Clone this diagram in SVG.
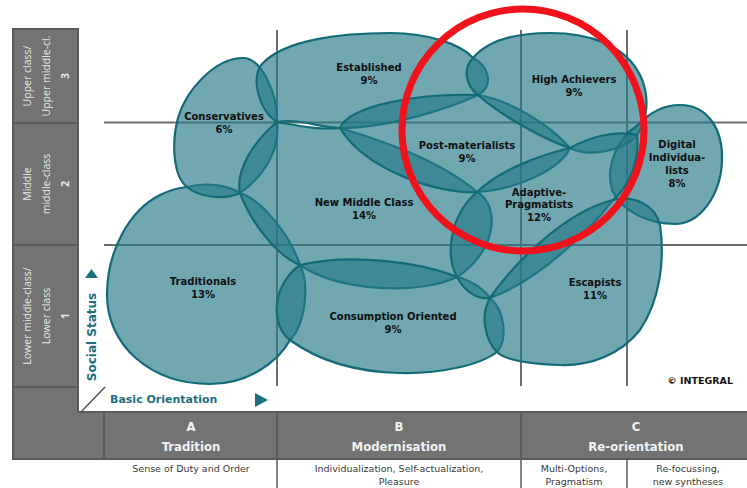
<svg xmlns="http://www.w3.org/2000/svg" width="747" height="488" viewBox="0 0 747 488">
  <defs>
    <style>
      .panel { fill: #737373; stroke: #5a5a5a; stroke-width: 2; }
      .celltxt { font-family: "Open Sans", "DejaVu Sans", sans-serif; font-size: 10.5px; fill: #e6e6e6; text-anchor: middle; }
      .cellnum { font-family: "Open Sans", "DejaVu Sans", sans-serif; font-size: 10.5px; font-weight: bold; fill: #e6e6e6; text-anchor: middle; }
      .colhead { font-family: "DejaVu Sans Condensed", "Liberation Sans Narrow", "DejaVu Sans", sans-serif; font-weight: bold; font-size: 13px; fill: #f2f2f2; text-anchor: middle; }
      .coldesc { font-family: "DejaVu Sans", "Liberation Sans", sans-serif; font-size: 9.5px; fill: #3a3a3a; text-anchor: middle; }
      .grid { stroke: #6e6e6e; stroke-width: 2; fill: none; }
      .sep { stroke: #5a5a5a; stroke-width: 1.5; fill: none; }
      .blob { fill: #267a89; fill-opacity: 0.66; stroke: #136a78; stroke-width: 2.2; stroke-linejoin: round; }
      .lbl { font-family: "DejaVu Sans", "Liberation Sans", sans-serif; font-weight: bold; font-size: 10px; fill: #111; text-anchor: middle; }
      .axis { font-family: "DejaVu Sans", "Liberation Sans", sans-serif; font-weight: bold; fill: #1d6f7d; }
    </style>
  </defs>

  <rect width="747" height="488" fill="#ffffff"/>

  <!-- side and bottom frames -->
  <g id="frame">
    <rect class="panel" x="13" y="29" width="65" height="430"/>
    <rect class="panel" x="13" y="412" width="740" height="47"/>
    <rect x="14" y="388" width="63" height="70" fill="#737373"/>
    <line class="panel" x1="13" y1="123" x2="78" y2="123"/>
    <line class="panel" x1="13" y1="245" x2="78" y2="245"/>
    <line class="panel" x1="13" y1="387" x2="78" y2="387"/>
    <line class="panel" x1="104" y1="412" x2="104" y2="459"/>
    <line class="panel" x1="277" y1="412" x2="277" y2="459"/>
    <line class="panel" x1="521" y1="412" x2="521" y2="459"/>
    <line x1="80" y1="413" x2="105" y2="387" stroke="#555" stroke-width="1.5"/>
  </g>

  <!-- social status rows -->
  <g id="rows">
    <g transform="translate(31,76) rotate(-90)"><text class="celltxt">Upper class/</text></g>
    <g transform="translate(50,76) rotate(-90)"><text class="celltxt">Upper middle-cl.</text></g>
    <g transform="translate(68.5,76) rotate(-90)"><text class="cellnum">3</text></g>
    <g transform="translate(31,184) rotate(-90)"><text class="celltxt">Middle</text></g>
    <g transform="translate(50,184) rotate(-90)"><text class="celltxt">middle-class</text></g>
    <g transform="translate(68.5,184) rotate(-90)"><text class="cellnum">2</text></g>
    <g transform="translate(31,316) rotate(-90)"><text class="celltxt">Lower middle-class/</text></g>
    <g transform="translate(50,316) rotate(-90)"><text class="celltxt">Lower class</text></g>
    <g transform="translate(68.5,316) rotate(-90)"><text class="cellnum">1</text></g>
  </g>

  <!-- basic orientation columns -->
  <g id="columns">
    <text class="colhead" x="191" y="431">A</text>
    <text class="colhead" x="191" y="451">Tradition</text>
    <text class="colhead" x="399" y="431">B</text>
    <text class="colhead" x="399" y="451">Modernisation</text>
    <text class="colhead" x="636" y="431">C</text>
    <text class="colhead" x="636" y="451">Re-orientation</text>
    <line class="sep" x1="277" y1="459" x2="277" y2="488"/>
    <line class="sep" x1="521" y1="459" x2="521" y2="488"/>
    <line class="sep" x1="627" y1="459" x2="627" y2="488"/>
    <text class="coldesc" x="191" y="472">Sense of Duty and Order</text>
    <text class="coldesc" x="399" y="472">Individualization, Self-actualization,</text>
    <text class="coldesc" x="399" y="485">Pleasure</text>
    <text class="coldesc" x="574" y="472">Multi-Options,</text>
    <text class="coldesc" x="574" y="485">Pragmatism</text>
    <text class="coldesc" x="688" y="472">Re-focussing,</text>
    <text class="coldesc" x="688" y="485">new syntheses</text>
  </g>

  <!-- grid inside the chart -->
  <g id="grid">
    <line class="grid" x1="277" y1="30" x2="277" y2="386"/>
    <line class="grid" x1="521" y1="30" x2="521" y2="386"/>
    <line class="grid" x1="627" y1="30" x2="627" y2="386"/>
    <line class="grid" x1="104" y1="122.5" x2="747" y2="122.5"/>
    <line class="grid" x1="104" y1="245" x2="747" y2="245"/>
  </g>

  <!-- connectors: none, the milieus touch and overlap directly -->
  <g id="connectors"/>

  <g id="traditionals">
    <path class="blob" d="M187 187 C205 182 228 185 240 193 C262 200 290 235 300 265 C310 285 305 325 290 340 C278 362 248 384 210 384 C150 384 107 345 107 295 C107 250 130 210 160 195 C170 190 178 188 187 187 Z"/>
    <text class="lbl" x="203" y="285">Traditionals</text>
    <text class="lbl" x="203" y="298">13%</text>
  </g>

  <g id="conservatives">
    <path class="blob" d="M243 58 C262 58 278 95 277 122 C280 150 265 175 240 193 C225 200 200 198 187 187 C172 175 172 140 178 118 C186 90 215 58 243 58 Z"/>
    <text class="lbl" x="224" y="120">Conservatives</text>
    <text class="lbl" x="224" y="133">6%</text>
  </g>

  <g id="established">
    <path class="blob" d="M277 122 C258 110 250 75 263 63 C285 40 340 33 390 33 C430 33 462 45 473 58 C488 65 495 85 478 95 C450 108 390 128 340 128 C320 128 300 118 277 122 Z"/>
    <text class="lbl" x="369" y="71">Established</text>
    <text class="lbl" x="369" y="84">9%</text>
  </g>

  <g id="new-middle-class">
    <path class="blob" d="M277 122 C300 126 320 130 340 128 C380 140 440 160 477 192 C500 205 498 250 457 277 C420 295 340 292 300 265 C275 255 250 220 240 193 C235 170 255 140 277 122 Z"/>
    <text class="lbl" x="364" y="206">New Middle Class</text>
    <text class="lbl" x="364" y="219">14%</text>
  </g>

  <g id="consumption-oriented">
    <path class="blob" d="M300 265 C350 253 420 262 457 277 C470 280 483 288 490 298 C505 310 508 340 497 352 C480 365 440 374 400 373 C360 372 320 362 290 340 C270 325 272 285 300 265 Z"/>
    <text class="lbl" x="393" y="320">Consumption Oriented</text>
    <text class="lbl" x="393" y="333">9%</text>
  </g>

  <g id="post-materialists">
    <path class="blob" d="M340 128 C350 105 420 93 478 95 C510 100 550 125 570 148 C560 170 515 190 477 192 C440 195 365 170 340 128 Z"/>
    <text class="lbl" x="467" y="149">Post-materialists</text>
    <text class="lbl" x="467" y="162">9%</text>
  </g>

  <g id="high-achievers">
    <path class="blob" d="M478 95 C465 85 463 68 473 58 C490 38 520 33 550 33 C590 33 625 45 640 75 C650 95 648 120 637 135 C625 150 590 158 570 148 C545 140 500 115 478 95 Z"/>
    <text class="lbl" x="574" y="83">High Achievers</text>
    <text class="lbl" x="574" y="96">9%</text>
  </g>

  <g id="digital-individualists">
    <path class="blob" d="M638 125 C652 110 665 105 680 105 C708 105 723 130 722 160 C721 195 700 224 675 224 C650 224 622 212 612 190 C605 165 618 138 638 125 Z"/>
    <text class="lbl" x="677" y="148">Digital</text>
    <text class="lbl" x="677" y="161">Individua-</text>
    <text class="lbl" x="677" y="174">lists</text>
    <text class="lbl" x="677" y="187">8%</text>
  </g>

  <g id="adaptive-pragmatists">
    <path class="blob" d="M477 192 C500 170 540 155 570 148 C590 137 615 130 637 135 C640 160 630 185 613 200 C590 230 540 280 490 298 C478 300 465 292 457 277 C445 255 450 215 477 192 Z"/>
    <text class="lbl" x="539" y="196">Adaptive-</text>
    <text class="lbl" x="539" y="208">Pragmatists</text>
    <text class="lbl" x="539" y="221">12%</text>
  </g>

  <g id="escapists">
    <path class="blob" d="M490 298 C515 262 565 212 613 200 C635 195 655 205 660 225 C665 260 660 300 640 330 C620 355 590 366 560 365 C530 364 505 360 497 352 C485 340 480 315 490 298 Z"/>
    <text class="lbl" x="595" y="286">Escapists</text>
    <text class="lbl" x="595" y="299">11%</text>
  </g>

  <!-- highlight ring -->
  <g id="highlight">
    <circle cx="523" cy="130" r="121" fill="none" stroke="#f2121b" stroke-width="7"/>
  </g>

  <!-- axis captions -->
  <g id="axes">
    <polygon points="91.5,269 98,278 85,278" fill="#1d6f7d"/>
    <g transform="translate(96,337) rotate(-90)"><text class="axis" font-size="12" text-anchor="middle">Social Status</text></g>
    <text class="axis" x="110" y="403" font-size="11">Basic Orientation</text>
    <polygon points="255,393 268,400 255,407" fill="#1d6f7d"/>
    <text x="733" y="384" font-family="DejaVu Sans, Liberation Sans, sans-serif" font-weight="bold" font-size="9.5" fill="#111" text-anchor="end">© INTEGRAL</text>
  </g>
</svg>
